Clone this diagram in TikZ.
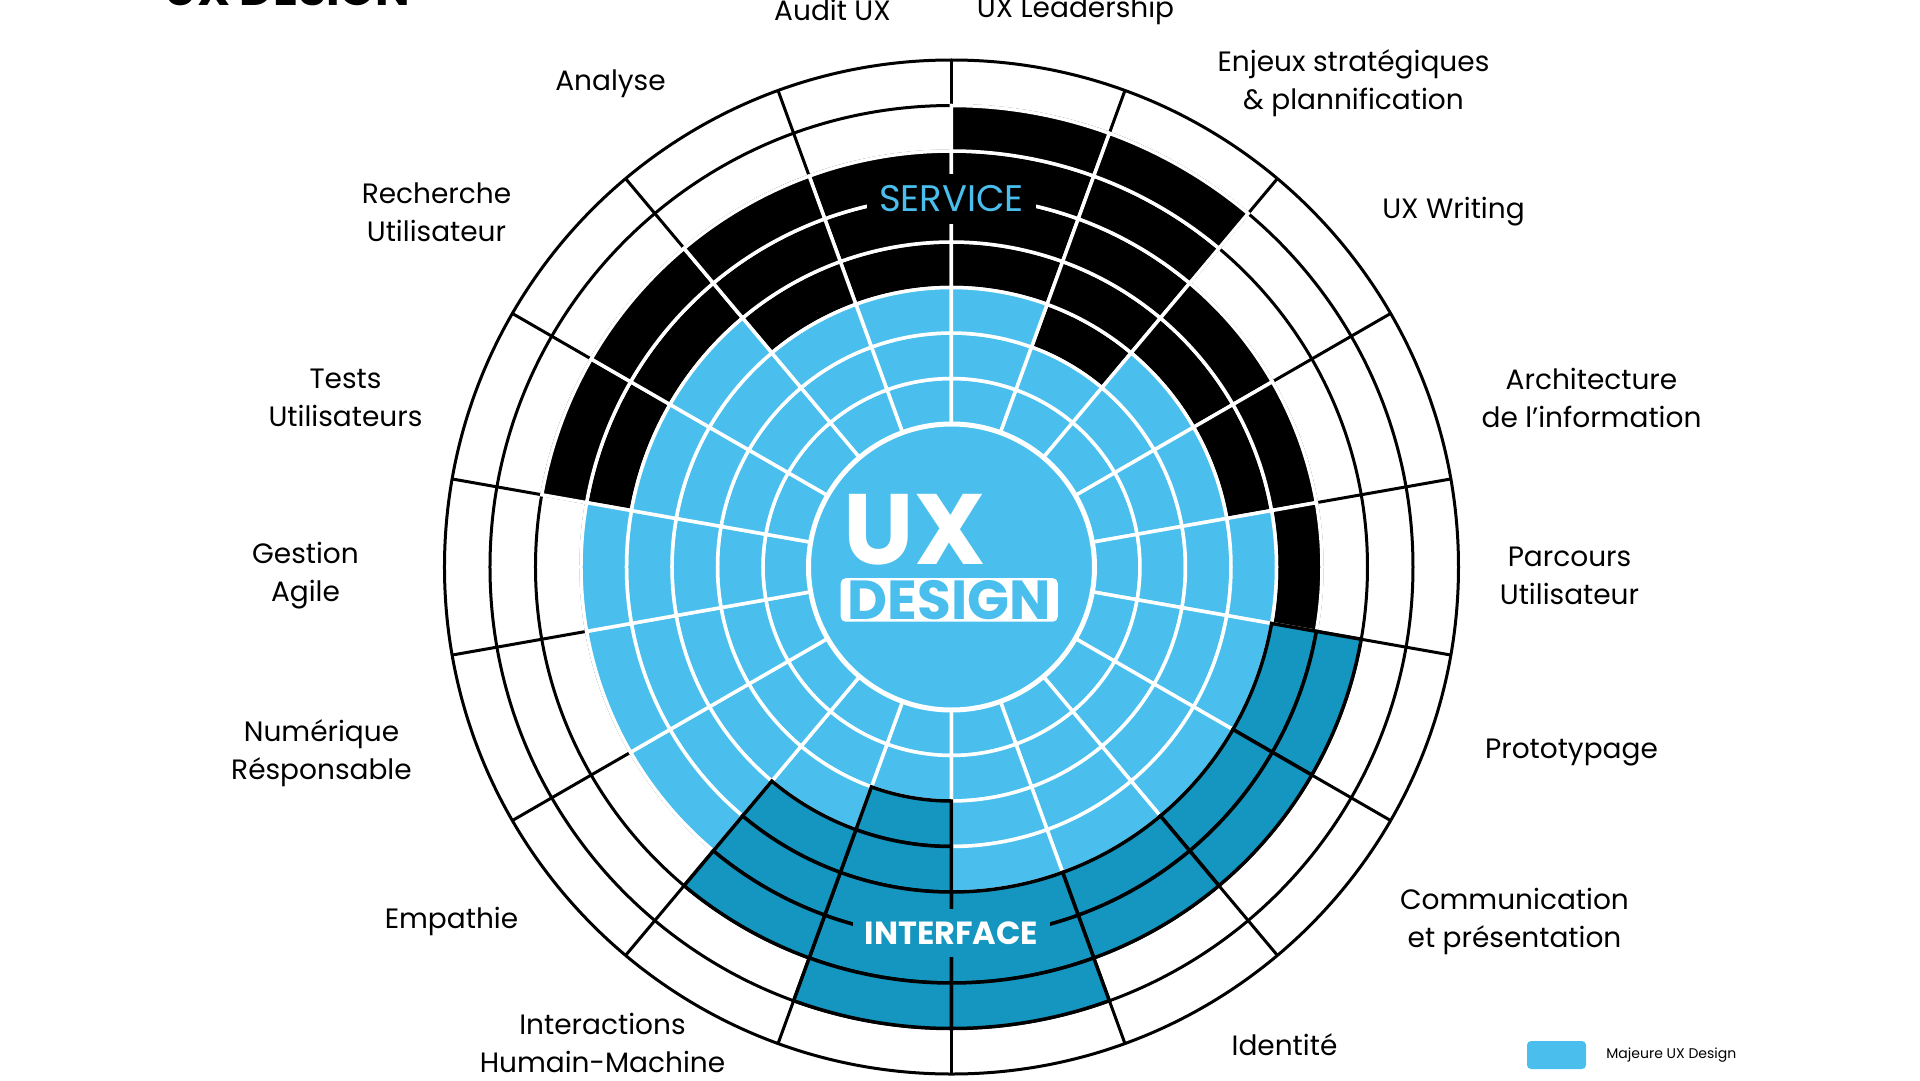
\documentclass[tikz,border=0pt]{standalone}
\usepackage{fontspec}
\setmainfont{Poppins}
\usetikzlibrary{positioning}
\definecolor{uxcyan}{RGB}{74, 191, 237}
\definecolor{uxdark}{RGB}{20, 150, 192}
\tikzset{
  label/.style={font=\fontsize{28}{38}\selectfont, align=center, text=black},
  blackcell/.style={fill=black, draw=white, line width=3.5pt},
  cyancell/.style={fill=uxcyan, draw=white, line width=3.5pt},
  darkcell/.style={fill=uxdark, draw=black, line width=3.5pt},
  gridline/.style={draw=black, line width=3pt}
}
% one ring cell: start angle, ring number, style
\newcommand\uxcell[3]{%
  \pgfmathsetmacro\ri{143+45.5*(#2-1)}%
  \pgfmathsetmacro\ro{143+45.5*#2}%
  \pgfmathsetmacro\ae{#1+20}%
  \path[#3] (#1:\ri) arc[start angle=#1, end angle=\ae, radius=\ri]
    -- (\ae:\ro) arc[start angle=\ae, end angle=#1, radius=\ro] -- cycle;}
\begin{document}
\begin{tikzpicture}[x=1pt, y=1pt]
\useasboundingbox (-951.5,-513) rectangle (968.5,567);

% Grid
\foreach \k in {1,...,8} \draw[gridline] (0,0) circle[radius={143+45.5*\k}];
\foreach \i in {0,...,17} \draw[gridline] (-90+20*\i:143) -- (-90+20*\i:507);

% Service rings
\foreach \a/\f/\l in {90/4/6, 70/4/7, 50/3/7, 30/4/5, 10/4/5, -10/5/5, 150/5/6, 130/5/6, 110/4/6}
  \foreach \k in {\f,...,\l}
    \uxcell{\a}{\k}{blackcell};

% Majeure rings
\foreach \a/\c in {90/3, 70/3, 50/2, 30/3, 10/3, -10/4, -30/4, -50/4, -70/4, -90/4,
                   250/2, 230/3, 210/5, 190/5, 170/5, 150/4, 130/4, 110/3}
  \foreach \k in {1,...,\c}
    \uxcell{\a}{\k}{cyancell};

% Interface rings
\foreach \a/\f/\l in {-30/5/6, -50/5/6, -70/5/6, -90/5/7, 250/3/7, 230/4/6}
  \foreach \k in {\f,...,\l}
    \uxcell{\a}{\k}{darkcell};

% Centre
\fill[uxcyan, draw=white, line width=5pt] (0,0) circle[radius=143];
\node[anchor=base west, inner sep=0pt, text=white, font=\fontsize{100}{100}\selectfont\bfseries] (ux) at (-108,3) {UX};
\node[anchor=north west, fill=white, rounded corners=5pt, inner xsep=7pt, inner ysep=2pt,
      text=uxcyan, font=\fontsize{55}{55}\selectfont\bfseries] (design) at (-111,-11) {DESIGN};

\node[fill=black, text=uxcyan, minimum height=50pt, inner xsep=12pt,
      font=\fontsize{37}{37}\selectfont] (service) at (0,368) {SERVICE};
\node[fill=uxdark, text=white, minimum height=48pt, inner xsep=12pt,
      font=\fontsize{32}{32}\selectfont\bfseries] (interface) at (0,-366) {INTERFACE};

% Labels
\node[label] (audit) at (-119,557) {Audit UX};
\node[label] (lead) at (124,557) {UX Leadership};
\node[label] (enjeux) at (402,484) {Enjeux stratégiques\\\& plannification};
\node[label] (writing) at (502,355) {UX Writing};
\node[label] (archi) at (640,169) {Architecture\\de l’information};
\node[label] (parcours) at (618,-9) {Parcours\\Utilisateur};
\node[label] (proto) at (620,-186) {Prototypage};
\node[label] (comm) at (563,-354) {Communication\\et présentation};
\node[label] (ident) at (333,-478) {Identité};
\node[label] (ihm) at (-349,-476) {Interactions\\Humain-Machine};
\node[label] (empathie) at (-500,-354) {Empathie};
\node[label] (numerique) at (-630,-186) {Numérique\\Résponsable};
\node[label] (agile) at (-646,-9) {Gestion\\Agile};
\node[label] (tests) at (-606,169) {Tests\\Utilisateurs};
\node[label] (recherche) at (-515,355) {Recherche\\Utilisateur};
\node[label] (analyse) at (-341,483) {Analyse};

% Title (cut by the frame)
\node[anchor=base west, inner sep=0pt, font=\fontsize{46}{46}\selectfont\bfseries] (title) at (-787,561) {UX DESIGN};

% Legend
\node[fill=uxcyan, rounded corners=4pt, minimum width=59pt, minimum height=28pt, inner sep=0pt] (key) at (605,-488) {};
\node[right=20pt of key, inner sep=0pt, font=\fontsize{14}{14}\selectfont] (keytext) {Majeure UX Design};
\end{tikzpicture}
\end{document}
